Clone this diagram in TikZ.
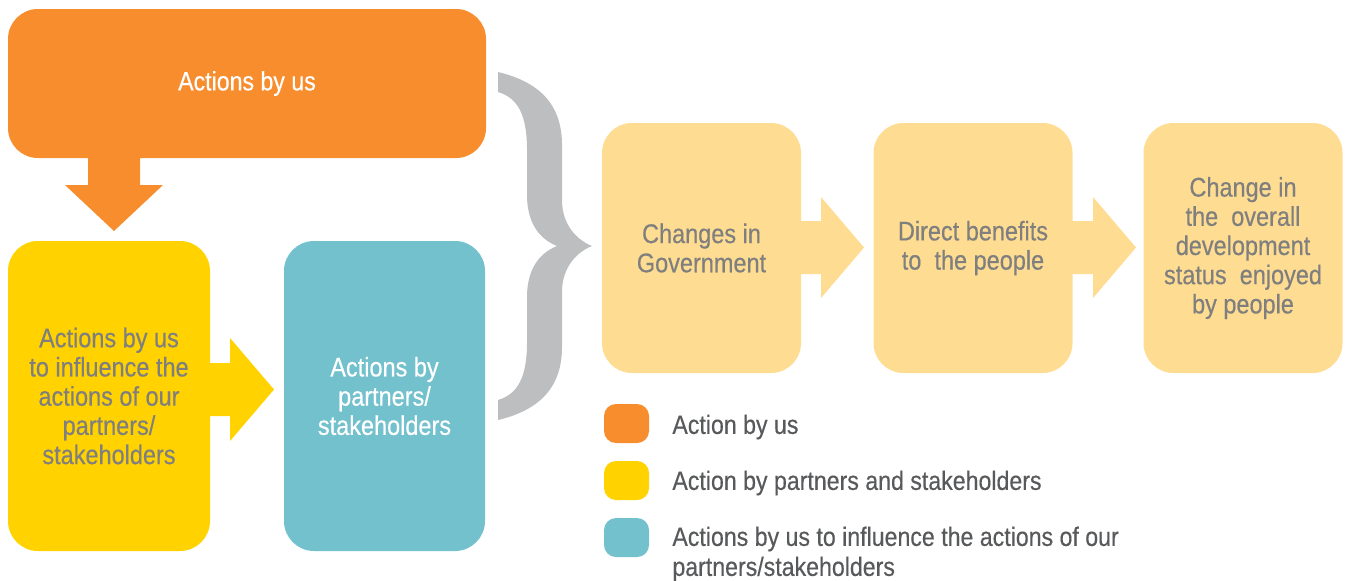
\documentclass[tikz,border=0pt]{standalone}
\usepackage{fontspec}
\setmainfont{Liberation Sans}[FakeStretch=0.87, FakeBold=0.4]
\definecolor{cOrange}{HTML}{F78D2D}
\definecolor{cYellow}{HTML}{FFD200}
\definecolor{cTeal}{HTML}{72C1CD}
\definecolor{cLight}{HTML}{FEDC91}
\definecolor{cBrace}{HTML}{BDBEC0}
\definecolor{cTxt}{HTML}{7F7F7F}
\definecolor{cLeg}{HTML}{58595B}
\tikzset{
  box/.style={rounded corners=15pt, inner sep=0pt, align=center, font=\fontsize{13.5}{14.6}\selectfont},
  lbox/.style={box, fill=cLight, text=cTxt, minimum width=99.5pt, minimum height=125pt},
  legsq/.style={rounded corners=6pt, minimum width=22.5pt, minimum height=19.5pt, inner sep=0pt},
  legtxt/.style={anchor=west, inner sep=0pt, align=left, text=cLeg, font=\fontsize{13.3}{15}\selectfont},
}
\begin{document}
\begin{tikzpicture}[x=0.5pt, y=-0.5pt]
\useasboundingbox (0,0) rectangle (1347,580);
% arrows (drawn first, boxes overlay)
\fill[cOrange] (88,150) -- (88,185) -- (65,185) -- (114,231) -- (163,185) -- (140,185) -- (140,150) -- cycle;
\fill[cYellow] (205,363) -- (230,363) -- (230,338) -- (274,389.5) -- (230,441) -- (230,416) -- (205,416) -- cycle;
\fill[cLight] (795,221) -- (821,221) -- (821,197) -- (864,247.5) -- (821,298) -- (821,274) -- (795,274) -- cycle;
\fill[cLight] (1066,221) -- (1093,221) -- (1093,197) -- (1136,247.5) -- (1093,298) -- (1093,274) -- (1066,274) -- cycle;
% boxes
\node[box, fill=cOrange, text=white, minimum width=239pt, minimum height=74.5pt, font=\fontsize{13.3}{15}\selectfont] (us) at (247,83.5) {Actions by us};
\node[box, fill=cYellow, text=cTxt, minimum width=101pt, minimum height=155pt] (infl) at (109,396) {Actions by us\\to influence the\\actions of our\\partners/\\stakeholders};
\node[box, fill=cTeal, text=white, minimum width=100.5pt, minimum height=155pt] (part) at (384.5,396) {Actions by\\partners/\\stakeholders};
\node[lbox] (gov) at (701.5,248) {Changes in\\Government};
\node[lbox] (ben) at (973,248) {Direct benefits\\to\ \ the people};
\node[lbox] (dev) at (1243,248) {Change in\\the\ \ overall\\development\\status\ \ enjoyed\\by people};
% brace
\fill[cBrace] (498,72) .. controls (540,82) and (562,105) .. (562,145) -- (562,200)
  .. controls (562,225) and (577,240) .. (592,246)
  .. controls (577,252) and (562,267) .. (562,292) -- (562,347)
  .. controls (562,387) and (540,410) .. (498,420) -- (498,400)
  .. controls (518,394) and (527,377) .. (527,342) -- (527,297)
  .. controls (527,272) and (537,254) .. (557,246)
  .. controls (537,238) and (527,220) .. (527,195) -- (527,150)
  .. controls (527,115) and (518,98) .. (498,92) -- cycle;
% legend
\node[legsq, fill=cOrange] (l1) at (626.5,423.5) {};
\node[legsq, fill=cYellow] (l2) at (626.5,480.5) {};
\node[legsq, fill=cTeal] (l3) at (626.5,537.5) {};
\node[legtxt] (t1) at (672,427) {Action by us};
\node[legtxt] (t2) at (672,483) {Action by partners and stakeholders};
\node[legtxt] (t3) at (672,554) {Actions by us to influence the actions of our\\partners/stakeholders};
\end{tikzpicture}
\end{document}
